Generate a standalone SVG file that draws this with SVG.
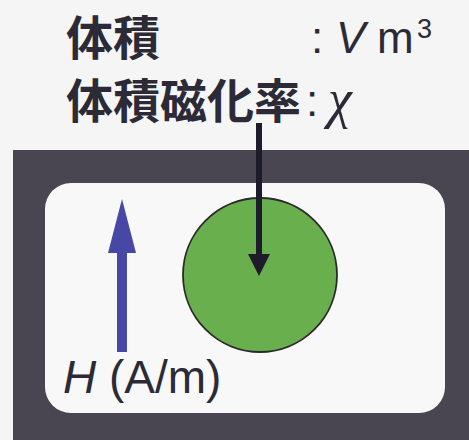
<svg xmlns="http://www.w3.org/2000/svg" width="469" height="440" viewBox="0 0 469 440">
<defs>
<style>
.t{font-family:"Liberation Sans","Noto Sans CJK JP",sans-serif;fill:#2b2a36;}
.cjk{font-family:"Noto Sans CJK JP","Liberation Sans",sans-serif;font-weight:bold;fill:#2b2a36;font-size:47px;}
</style>
</defs>
<rect width="469" height="440" fill="#f5f5f5"/>
<g id="frame">
<rect x="13" y="150" width="470" height="300" fill="#4a4651"/>
<rect x="45" y="183" width="400" height="230" rx="26" fill="#f8f8f8"/>
</g>
<g id="labels">
<text class="cjk" x="66" y="55">体積</text>
<text class="t" x="311" y="53" font-size="44">:</text>
<text class="t" x="336" y="53" font-size="44" font-style="italic">V</text>
<text class="t" x="377" y="53" font-size="44">m</text>
<text class="t" x="417" y="38" font-size="27">3</text>
<text class="cjk" x="66" y="118">体積磁化率</text>
<text class="t" x="306" y="116" font-size="44">:</text>
<text x="328" y="117" font-size="54" font-style="italic" font-family="Liberation Serif,serif" fill="#2b2a36">χ</text>
</g>
<g id="particle">
<circle cx="260" cy="275" r="77" fill="#6aaf4d" stroke="#2a2a2a" stroke-width="1.8"/>
</g>
<g id="field">
<rect x="117" y="248" width="10" height="104" fill="#4747a6"/>
<polygon points="108,253 136,253 122,199" fill="#4747a6"/>
<text class="t" x="63" y="393" font-size="46"><tspan font-style="italic">H</tspan> (A/m)</text>
</g>
<g id="connectors">
<line x1="259" y1="123" x2="259" y2="258" stroke="#1e1b2a" stroke-width="6"/>
<polygon points="248,254 270,254 259,276" fill="#1e1b2a"/>
</g>
</svg>
